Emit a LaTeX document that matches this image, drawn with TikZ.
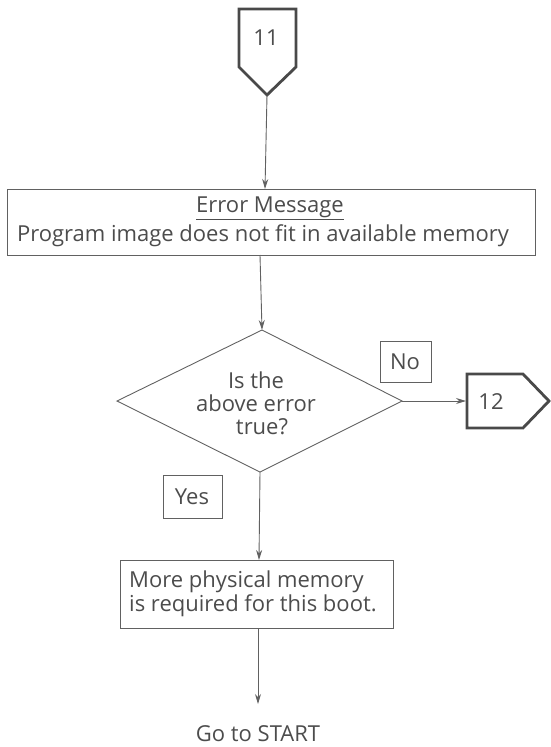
\documentclass[tikz,border=0pt]{standalone}
\usepackage{fontspec}
\setmainfont{Open Sans}
\usetikzlibrary{arrows.meta}
\definecolor{ink}{gray}{0.3}
\definecolor{edge}{gray}{0.38}
\tikzset{
  txt/.style={text=ink, font=\fontsize{22}{23}\selectfont, align=center, inner sep=0pt},
  boxline/.style={draw=edge, line width=0.9pt},
  offpage/.style={draw=edge!75!black, line width=2.8pt, line join=miter},
  conn/.style={draw=edge, line width=0.9pt, -{Stealth[length=10pt,width=6pt]}},
}
\begin{document}
\begin{tikzpicture}[x=1pt,y=-1pt]
\useasboundingbox (0,0) rectangle (551,747);
% off-page connector 11
\draw[offpage] (239,9) -- (296,9) -- (296,67) -- (267,95) -- (239,67) -- cycle;
\coordinate (p11) at (267,95);
\node[txt] (n11) at (266,38) {11};
% error message box
\draw[boxline] (7,189) rectangle (535,255);
\coordinate (boxtop) at (265,189);
\coordinate (boxbot) at (260,255);
\node[txt] (err1) at (270,208) {\underline{Error Message}};
\node[txt] (err2) at (263,236) {Program image does not fit in available memory};
% decision diamond
\coordinate (dtop) at (262,330);
\coordinate (dleft) at (117,401);
\coordinate (dright) at (402,401);
\coordinate (dbot) at (260,472);
\draw[boxline] (dtop) -- (dright) -- (dbot) -- (dleft) -- cycle;
\node[txt] (q) at (256,403) {Is the\\above error\\\hspace*{12pt}true?};
% No label
\draw[boxline] (380,341) rectangle (431,382);
\node[txt] (no) at (405,362) {No};
% off-page connector 12
\draw[offpage] (467,374) -- (523,374) -- (549,401) -- (523,428) -- (467,428) -- cycle;
\coordinate (p12) at (466,401);
\node[txt] (n12) at (491,402) {12};
% Yes label
\draw[boxline] (163,475) rectangle (222,518);
\node[txt] (yes) at (192,497) {Yes};
% result box
\draw[boxline] (120,560) rectangle (393,628);
\coordinate (rtop) at (259,560);
\coordinate (rbot) at (258,628);
\node[txt, align=left, anchor=west, font=\fontsize{22}{24}\selectfont] (res) at (129,594) {More physical memory\\is required for this boot.};
% go to start
\coordinate (gend) at (258,704);
\node[txt] (go) at (258,734) {Go to START};
% connectors
\draw[conn] (p11) -- (boxtop);
\draw[conn] (boxbot) -- (dtop);
\draw[conn] (dright) -- (p12);
\draw[conn] (dbot) -- (rtop);
\draw[conn] (rbot) -- (gend);
\end{tikzpicture}
\end{document}
